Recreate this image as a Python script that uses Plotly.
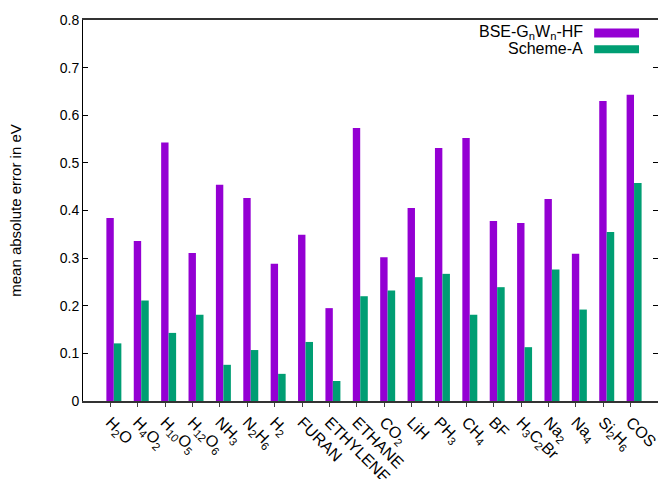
import plotly.graph_objects as go

categories = ["H<sub>2</sub>O", "H<sub>4</sub>O<sub>2</sub>", "H<sub>10</sub>O<sub>5</sub>",
              "H<sub>12</sub>O<sub>6</sub>", "NH<sub>3</sub>", "N<sub>2</sub>H<sub>6</sub>",
              "H<sub>2</sub>", "FURAN", "ETHYLENE", "ETHANE", "CO<sub>2</sub>", "LiH",
              "PH<sub>3</sub>", "CH<sub>4</sub>", "BF", "H<sub>3</sub>C<sub>2</sub>Br",
              "Na<sub>2</sub>", "Na<sub>4</sub>", "Si<sub>2</sub>H<sub>6</sub>", "COS"]
bse_gw_hf = [0.384, 0.336, 0.543, 0.311, 0.454, 0.426, 0.288, 0.349, 0.195, 0.573,
             0.302, 0.405, 0.531, 0.552, 0.378, 0.374, 0.424, 0.309, 0.630, 0.643]
scheme_a = [0.121, 0.211, 0.143, 0.181, 0.076, 0.107, 0.057, 0.124, 0.042, 0.220,
            0.232, 0.260, 0.267, 0.181, 0.239, 0.113, 0.276, 0.192, 0.355, 0.458]
y_ticks = [0, 0.1, 0.2, 0.3, 0.4, 0.5, 0.6, 0.7, 0.8]
y_ticktext = ["0", "0.1", "0.2", "0.3", "0.4", "0.5", "0.6", "0.7", "0.8"]

x = list(range(len(categories)))
PURPLE = "#9400D3"
GREEN = "#009E73"
FONT = "Liberation Sans, Arial, Helvetica, sans-serif"

fig = go.Figure()
fig.add_trace(go.Bar(x=x, y=bse_gw_hf, width=0.27, offset=-0.146,
                     marker=dict(color=PURPLE, line=dict(width=0)),
                     name="BSE-G<sub>n</sub>W<sub>n</sub>-HF"))
fig.add_trace(go.Bar(x=x, y=scheme_a, width=0.275, offset=0.126,
                     marker=dict(color=GREEN, line=dict(width=0)),
                     name="Scheme-A"))

fig.update_layout(
    width=658, height=479,
    margin=dict(l=83, r=0, t=20, b=78, autoexpand=False),
    plot_bgcolor="white", paper_bgcolor="white",
    showlegend=False,
    barmode="overlay",
    font=dict(family=FONT, size=14, color="black"),
    xaxis=dict(range=[-1, 20], tickmode="array", tickvals=x, ticktext=categories,
               tickangle=45, ticks="outside", ticklen=4, tickcolor="#444",
               showline=True, linecolor="#333", linewidth=1.5, mirror=True,
               showgrid=False, zeroline=False, tickfont=dict(size=16),
               automargin=False, ticklabeloverflow="allow"),
    yaxis=dict(range=[0, 0.8], tickmode="array", tickvals=y_ticks, ticktext=y_ticktext,
               ticks="inside", ticklen=5, tickcolor="black",
               showline=True, linecolor="black", linewidth=1, mirror="ticks",
               showgrid=False, zeroline=False, tickfont=dict(size=14),
               automargin=False,
               title=dict(text="mean absolute error in eV", font=dict(size=15), standoff=34)),
)

# legend drawn in gnuplot style (text right-aligned, swatch on the right)
legend_items = [("BSE-G<sub>n</sub>W<sub>n</sub>-HF", PURPLE, 0.966, 0.978, 0.954),
                ("Scheme-A", GREEN, 0.924, 0.934, 0.913)]
for label, color, yc, y0, y1 in legend_items:
    fig.add_annotation(xref="paper", yref="paper", x=0.873, y=yc, text=label,
                       showarrow=False, xanchor="right", yanchor="middle",
                       font=dict(size=16, family=FONT, color="black"))
    fig.add_shape(type="rect", xref="paper", yref="paper", x0=0.889, x1=0.967,
                  y0=y1, y1=y0, fillcolor=color, line=dict(width=0))

fig.write_html("out.html", config={"displayModeBar": False},
               post_script="document.body.style.margin='0';document.body.style.overflow='hidden';")
